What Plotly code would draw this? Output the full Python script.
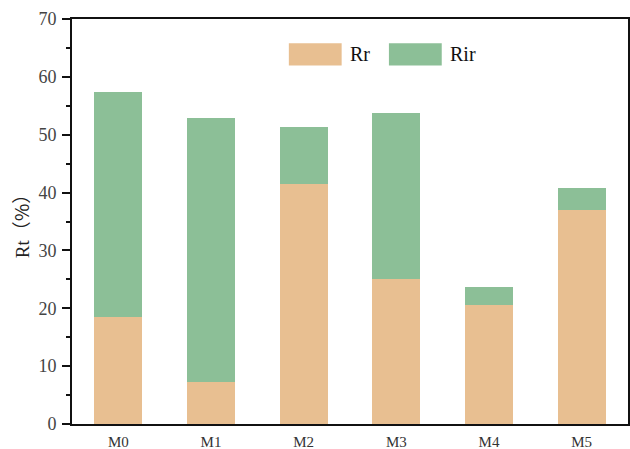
import plotly.graph_objects as go

# Stacked contributions per sample
categories = ["M0", "M1", "M2", "M3", "M4", "M5"]
rr_values = [18.5, 7.3, 41.5, 25.0, 20.5, 37.0]
rir_values = [38.8, 45.6, 9.9, 28.8, 3.2, 3.8]
series_names = ["Rr", "Rir"]
series_colors = ["#E8BF91", "#8CBF97"]
y_ticks = [0, 10, 20, 30, 40, 50, 60, 70]

serif = "Liberation Serif, Times New Roman, serif"

fig = go.Figure()
for name, vals, col in zip(series_names, [rr_values, rir_values], series_colors):
    fig.add_trace(go.Bar(
        x=categories, y=vals, name=name,
        marker=dict(color=col, line=dict(width=0)),
        showlegend=False,
    ))

fig.update_layout(
    barmode="stack",
    bargap=0.48,
    width=630, height=449,
    margin=dict(l=72, r=2, t=19, b=25),
    plot_bgcolor="white",
    paper_bgcolor="white",
    font=dict(family=serif, color="#222222"),
)

fig.update_xaxes(
    range=[-0.5, 5.5],
    showline=True, linecolor="#111111", linewidth=2, mirror=True,
    ticks="", tickfont=dict(size=15, family=serif, color="#333333"), ticklabelstandoff=3,
    automargin=False,
)
fig.update_yaxes(
    range=[0, 70],
    tickvals=y_ticks,
    showline=True, linecolor="#111111", linewidth=2, mirror=True,
    showgrid=False, zeroline=False,
    ticks="outside", ticklen=8, tickwidth=2, tickcolor="#111111",
    minor=dict(dtick=5, ticks="outside", ticklen=4, tickwidth=2, tickcolor="#111111", showgrid=False),
    tickfont=dict(size=18, family=serif, color="#444444"),
    ticklabelstandoff=2,
    title=dict(text='Rt<span style="font-family:Noto Sans CJK SC">（%）</span>',
               font=dict(size=19, family=serif, color="#222222"), standoff=4),
    automargin=False,
)

# Legend drawn as swatches and labels at the top of the plot area
legend_x = [0.39, 0.57]
for name, col, lx in zip(series_names, series_colors, legend_x):
    fig.add_shape(type="rect", xref="paper", yref="paper",
                  x0=lx, x1=lx + 0.095, y0=0.885, y1=0.94,
                  fillcolor=col, line=dict(width=0))
    fig.add_annotation(xref="paper", yref="paper", x=lx + 0.107, y=0.9125,
                       text=name, showarrow=False, xanchor="left", yanchor="middle",
                       font=dict(size=20, family=serif, color="#111111"))

fig.write_html("out.html")
